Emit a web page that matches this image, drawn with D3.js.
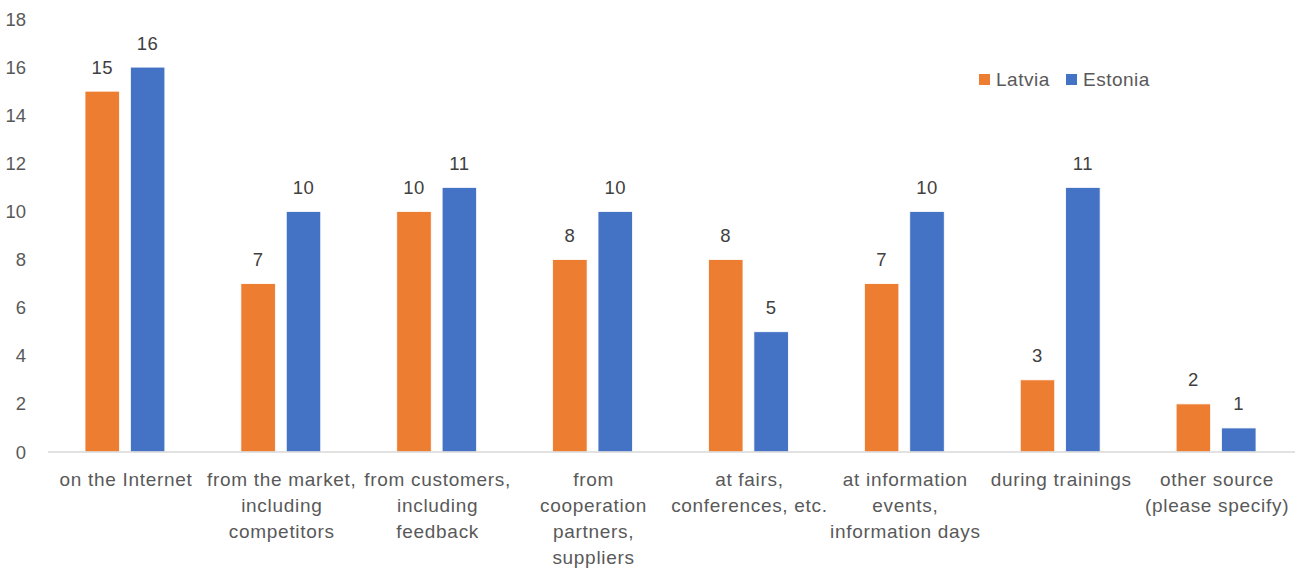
<!DOCTYPE html>
<html>
<head>
<meta charset="utf-8">
<script src="https://cdn.jsdelivr.net/npm/d3@7"></script>
<style>
  html, body { margin: 0; padding: 0; background: #fff; }
  svg { display: block; font-family: "Liberation Sans", Arial, sans-serif; }
</style>
</head>
<body>
<svg id="chart" width="1301" height="568"></svg>
<script>
// Where respondents get information, by country
const categories = [
  ["on the Internet"],
  ["from the market,", "including", "competitors"],
  ["from customers,", "including", "feedback"],
  ["from", "cooperation", "partners,", "suppliers"],
  ["at fairs,", "conferences, etc."],
  ["at information", "events,", "information days"],
  ["during trainings"],
  ["other source", "(please specify)"]
];
const seriesNames = ["Latvia", "Estonia"];
const latvia  = [15, 7, 10, 8, 8, 7, 3, 2];
const estonia = [16, 10, 11, 10, 5, 10, 11, 1];
const yTicks = [0, 2, 4, 6, 8, 10, 12, 14, 16, 18];
const colors = ["#ED7D31", "#4472C4"];

const svg = d3.select("#chart");
const plotLeft = 48, plotRight = 1295, plotTop = 19, plotBottom = 452;

const x = d3.scaleBand()
  .domain(d3.range(categories.length))
  .range([plotLeft, plotRight]);
const step = x.bandwidth();
const x1 = d3.scaleBand()
  .domain(seriesNames)
  .range([37, step - 39])
  .paddingInner(0.24);

const y = d3.scaleLinear().domain([0, 18]).range([plotBottom, plotTop]);

// y tick labels
svg.append("g").selectAll("text")
  .data(yTicks)
  .join("text")
  .attr("x", 26)
  .attr("y", d => y(d) + 6.5)
  .attr("text-anchor", "end")
  .attr("fill", "#595959")
  .attr("font-size", 18.5)
  .text(d => d);

// bars
const rows = categories.map((c, i) => ({ i, values: [latvia[i], estonia[i]] }));
const groups = svg.append("g").selectAll("g")
  .data(rows)
  .join("g")
  .attr("transform", d => `translate(${x(d.i)},0)`);

groups.selectAll("rect")
  .data(d => d.values.map((v, k) => ({ v, k })))
  .join("rect")
  .attr("x", d => x1(seriesNames[d.k]))
  .attr("width", x1.bandwidth())
  .attr("y", d => y(d.v))
  .attr("height", d => y(0) - y(d.v))
  .attr("fill", d => colors[d.k])
  .attr("stroke", "#fff")
  .attr("stroke-width", 0.8);

// value labels
groups.selectAll("text.val")
  .data(d => d.values.map((v, k) => ({ v, k })))
  .join("text")
  .attr("class", "val")
  .attr("x", d => x1(seriesNames[d.k]) + x1.bandwidth() / 2)
  .attr("y", d => y(d.v) - 17.5)
  .attr("text-anchor", "middle")
  .attr("fill", "#404040")
  .attr("font-size", 18.5)
  .attr("letter-spacing", 0.5)
  .text(d => d.v);

// baseline
svg.append("line")
  .attr("x1", plotLeft).attr("x2", plotRight)
  .attr("y1", y(0)).attr("y2", y(0))
  .attr("stroke", "#d9d9d9")
  .attr("stroke-width", 1.5);

// category labels
const lab = svg.append("g").selectAll("text")
  .data(categories)
  .join("text")
  .attr("text-anchor", "middle")
  .attr("fill", "#595959")
  .attr("font-size", 19)
  .attr("letter-spacing", 0.7);
lab.each(function (lines, i) {
  const cx = x(i) + step / 2;
  d3.select(this).selectAll("tspan")
    .data(lines)
    .join("tspan")
    .attr("x", cx)
    .attr("y", (d, j) => 486 + j * 26)
    .text(d => d);
});

// legend
const legend = svg.append("g");
const legendX = [979, 1066];
seriesNames.forEach((name, k) => {
  legend.append("rect")
    .attr("x", legendX[k]).attr("y", 74)
    .attr("width", 11).attr("height", 11)
    .attr("fill", colors[k]);
  legend.append("text")
    .attr("x", legendX[k] + 17).attr("y", 85.5)
    .attr("fill", "#595959")
    .attr("font-size", 19)
    .attr("letter-spacing", 0.5)
    .text(name);
});
</script>
</body>
</html>
